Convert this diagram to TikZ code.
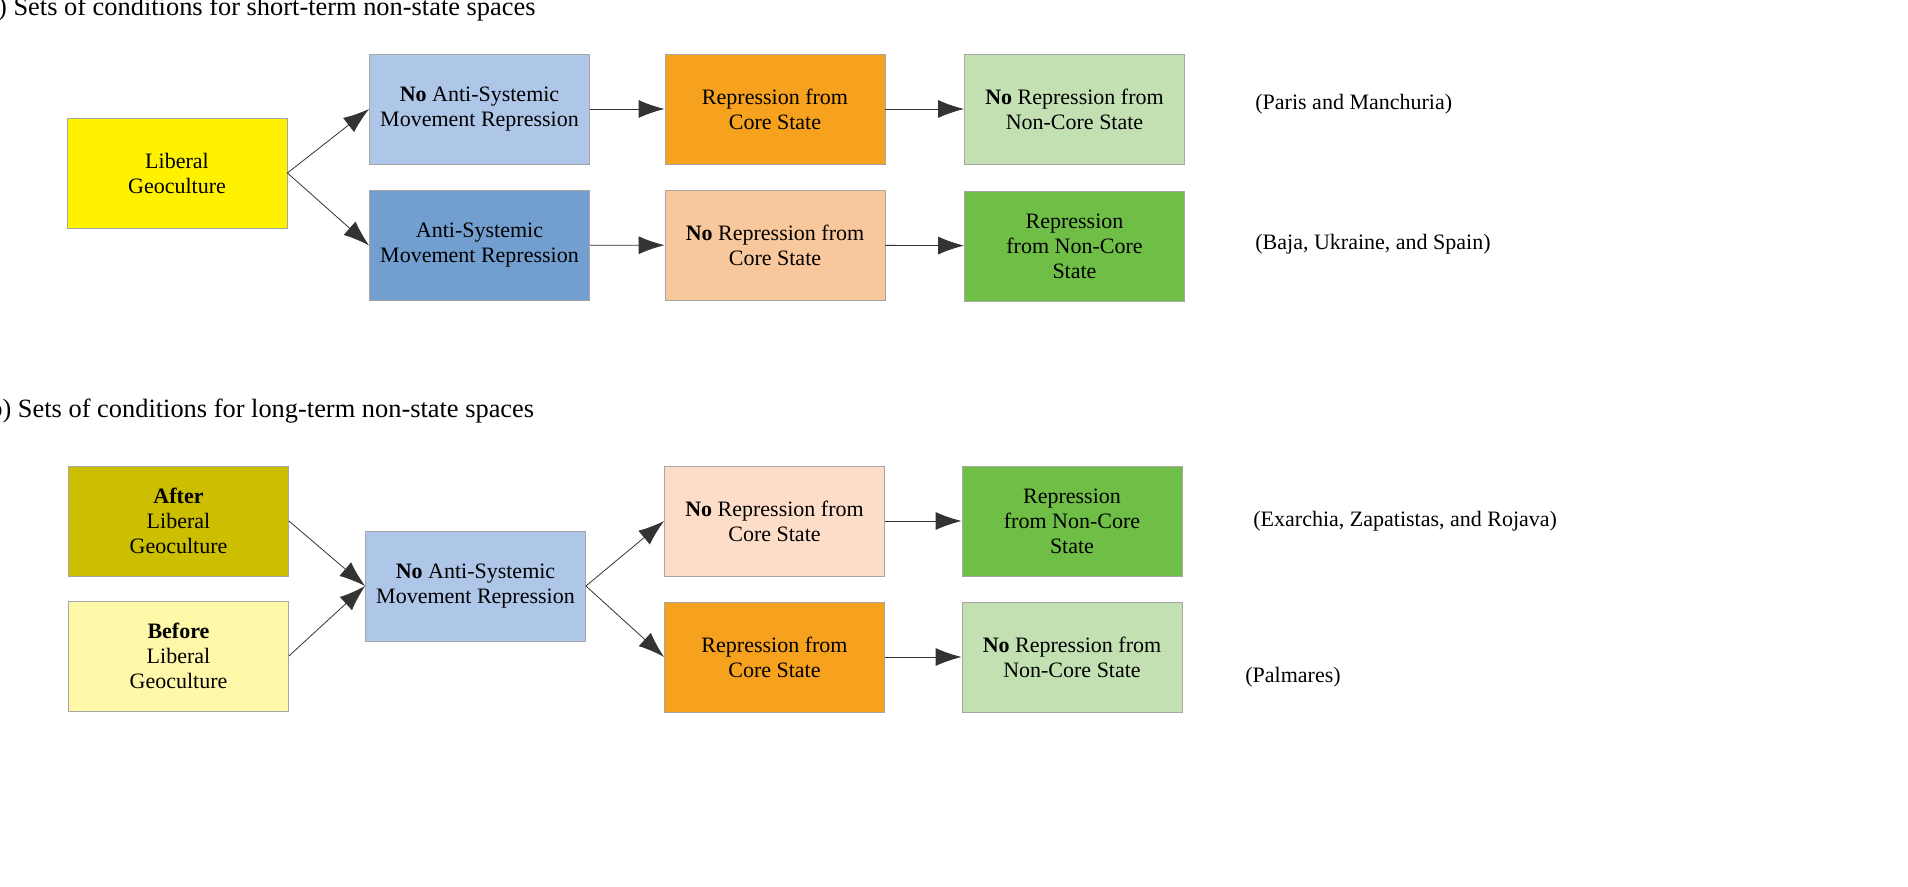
\documentclass[tikz,border=0pt]{standalone}
\usepackage{fontspec}
\setmainfont{Liberation Serif}
\usetikzlibrary{arrows.meta}
\definecolor{cyel}{HTML}{FFF200}
\definecolor{colive}{HTML}{CCBE00}
\definecolor{cpale}{HTML}{FFF8A8}
\definecolor{clb}{HTML}{AEC6E8}
\definecolor{cmb}{HTML}{729FCF}
\definecolor{cor}{HTML}{F6A21E}
\definecolor{cpeach}{HTML}{F9C79C}
\definecolor{cpeachl}{HTML}{FDDDC8}
\definecolor{clg}{HTML}{C3E0B3}
\definecolor{cdg}{HTML}{6FBF47}
\tikzset{
  bx/.style={draw=gray!70, line width=0.4pt, minimum width=110pt, minimum height=55pt, align=center, inner sep=0pt, font=\fontsize{11}{12.5}\selectfont},
  lbl/.style={anchor=west, inner sep=0pt, font=\fontsize{11}{13}\selectfont},
  arr/.style={draw=black!80, line width=0.4pt, -{Latex[length=13pt,width=9pt]}}
}
\begin{document}
\begin{tikzpicture}[x=0.5pt,y=-0.5pt]
\useasboundingbox (0,0) rectangle (1908,887);
\clip (0,0) rectangle (1908,887);
\node[anchor=base west, inner sep=0pt, font=\fontsize{13.2}{15}\selectfont] (ta) at (-14,16) {a) Sets of conditions for short-term non-state spaces};
\node[anchor=base west, inner sep=0pt, font=\fontsize{13.2}{15}\selectfont] (tb) at (-11,418) {b) Sets of conditions for long-term non-state spaces};
% top
\node[bx, fill=cyel] (lg) at (177,173) {Liberal\\Geoculture};
\node[bx, fill=clb] (na1) at (479.5,109) {\textbf{No} Anti-Systemic\\Movement Repression};
\node[bx, fill=cmb] (a1) at (479.5,245.5) {Anti-Systemic\\Movement Repression};
\node[bx, fill=cor] (rc1) at (775,109) {Repression from\\Core State};
\node[bx, fill=cpeach] (nrc1) at (775,245) {\textbf{No} Repression from\\Core State};
\node[bx, fill=clg] (nrn1) at (1074.5,109) {\textbf{No} Repression from\\Non-Core State};
\node[bx, fill=cdg] (rn1) at (1074.5,246) {Repression\\from Non-Core\\State};
\node[lbl] (l1) at (1255,104) {(Paris and Manchuria)};
\node[lbl] (l2) at (1255,244) {(Baja, Ukraine, and Spain)};
\draw[arr] (lg.east) -- (na1.west);
\draw[arr] (lg.east) -- (a1.west);
\draw[arr] (na1) -- (rc1);
\draw[arr] (a1) -- (nrc1);
\draw[arr] (rc1) -- (nrn1);
\draw[arr] (nrc1) -- (rn1);
% bottom
\node[bx, fill=colive] (af) at (178.5,521) {\textbf{After}\\Liberal\\Geoculture};
\node[bx, fill=cpale] (bf) at (178.5,656) {\textbf{Before}\\Liberal\\Geoculture};
\node[bx, fill=clb] (na2) at (475.5,586) {\textbf{No} Anti-Systemic\\Movement Repression};
\node[bx, fill=cpeachl] (nrc2) at (774.5,521) {\textbf{No} Repression from\\Core State};
\node[bx, fill=cor] (rc2) at (774.5,657) {Repression from\\Core State};
\node[bx, fill=cdg] (rn2) at (1072,521) {Repression\\from Non-Core\\State};
\node[bx, fill=clg] (nrn2) at (1072,657) {\textbf{No} Repression from\\Non-Core State};
\node[lbl] (l3) at (1253,521) {(Exarchia, Zapatistas, and Rojava)};
\node[lbl] (l4) at (1245,677) {(Palmares)};
\draw[arr] (af.east) -- (na2.west);
\draw[arr] (bf.east) -- (na2.west);
\draw[arr] (na2.east) -- (nrc2.west);
\draw[arr] (na2.east) -- (rc2.west);
\draw[arr] (nrc2) -- (rn2);
\draw[arr] (rc2) -- (nrn2);
\end{tikzpicture}
\end{document}
